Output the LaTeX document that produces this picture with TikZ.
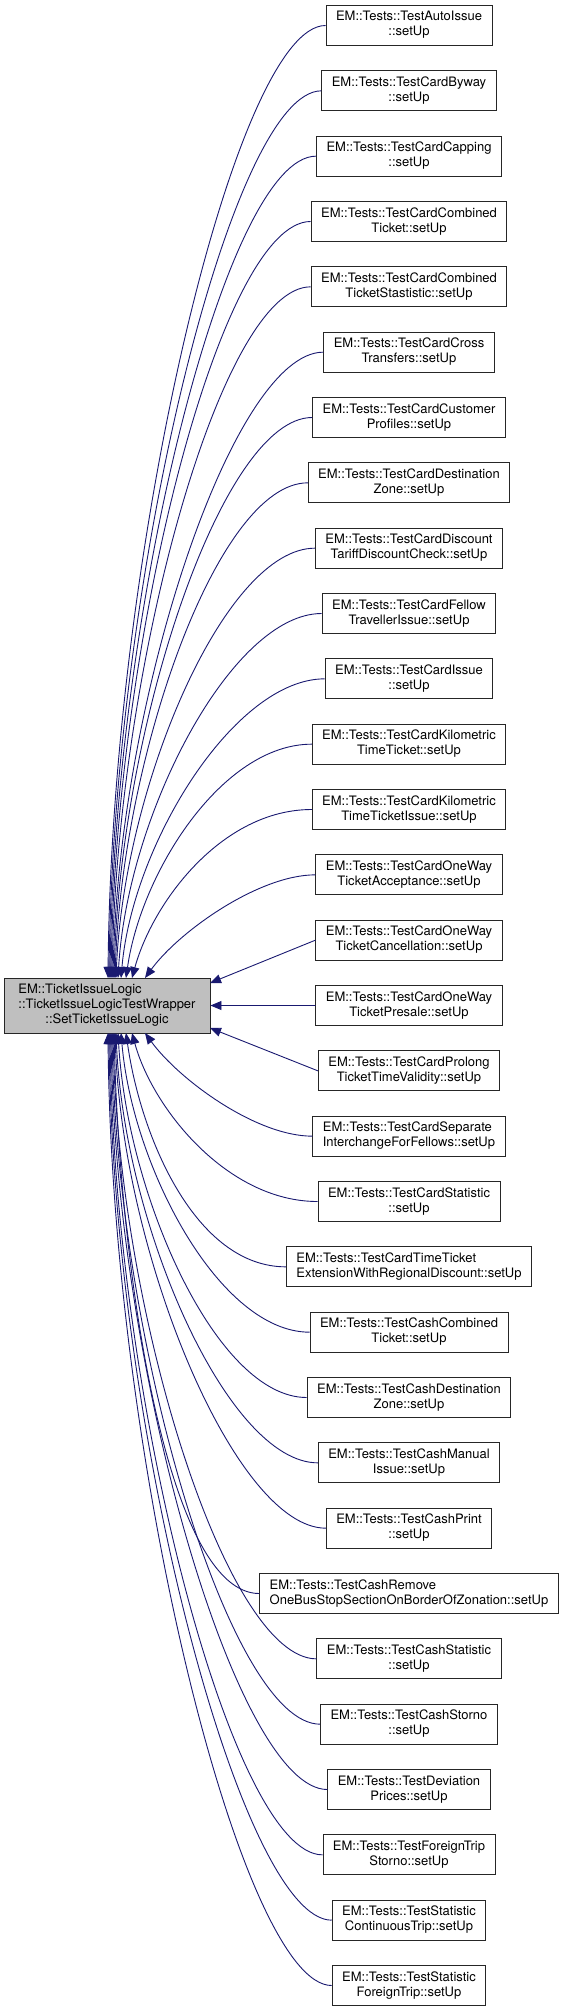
\documentclass[tikz,border=0pt]{standalone}
\usepackage{fontspec}
\setmainfont{TeX Gyre Heros}
\usetikzlibrary{calc,arrows.meta}
\definecolor{edgecol}{HTML}{191970}
\definecolor{boxgray}{HTML}{BFBFBF}
\newcommand{\twoline}[2]{\begin{tabular}{@{}c@{}}\multicolumn{1}{@{}l@{}}{#1}\\#2\end{tabular}}
\begin{document}
\begin{tikzpicture}[x=1pt,y=-1pt,
  box/.style={draw=black!85, line width=0.9pt, fill=white, minimum height=40pt,
    inner xsep=10pt, inner ysep=2pt, font=\fontsize{13}{15}\selectfont},
  edge/.style={draw=edgecol, line width=0.9pt, -{Triangle[length=11pt,width=9pt]}}]
\useasboundingbox (0,0) rectangle (565,2012);

\node[box, fill=boxgray, minimum width=206pt, minimum height=55pt] (L) at (107,1005.5)
  {\begin{tabular}{@{}c@{}}\multicolumn{1}{@{}l@{}}{EM::TicketIssueLogic}\\::TicketIssueLogicTestWrapper\\::SetTicketIssueLogic\end{tabular}};

\foreach \i/\ta/\tb in {
 0/EM::Tests::TestAutoIssue/::setUp,
 1/EM::Tests::TestCardByway/::setUp,
 2/EM::Tests::TestCardCapping/::setUp,
 3/EM::Tests::TestCardCombined/Ticket::setUp,
 4/EM::Tests::TestCardCombined/TicketStastistic::setUp,
 5/EM::Tests::TestCardCross/Transfers::setUp,
 6/EM::Tests::TestCardCustomer/Profiles::setUp,
 7/EM::Tests::TestCardDestination/Zone::setUp,
 8/EM::Tests::TestCardDiscount/TariffDiscountCheck::setUp,
 9/EM::Tests::TestCardFellow/TravellerIssue::setUp,
 10/EM::Tests::TestCardIssue/::setUp,
 11/EM::Tests::TestCardKilometric/TimeTicket::setUp,
 12/EM::Tests::TestCardKilometric/TimeTicketIssue::setUp,
 13/EM::Tests::TestCardOneWay/TicketAcceptance::setUp,
 14/EM::Tests::TestCardOneWay/TicketCancellation::setUp,
 15/EM::Tests::TestCardOneWay/TicketPresale::setUp,
 16/EM::Tests::TestCardProlong/TicketTimeValidity::setUp,
 17/EM::Tests::TestCardSeparate/InterchangeForFellows::setUp,
 18/EM::Tests::TestCardStatistic/::setUp,
 19/EM::Tests::TestCardTimeTicket/ExtensionWithRegionalDiscount::setUp,
 20/EM::Tests::TestCashCombined/Ticket::setUp,
 21/EM::Tests::TestCashDestination/Zone::setUp,
 22/EM::Tests::TestCashManual/Issue::setUp,
 23/EM::Tests::TestCashPrint/::setUp,
 24/EM::Tests::TestCashRemove/OneBusStopSectionOnBorderOfZonation::setUp,
 25/EM::Tests::TestCashStatistic/::setUp,
 26/EM::Tests::TestCashStorno/::setUp,
 27/EM::Tests::TestDeviation/Prices::setUp,
 28/EM::Tests::TestForeignTrip/Storno::setUp,
 29/EM::Tests::TestStatistic/ContinuousTrip::setUp,
 30/EM::Tests::TestStatistic/ForeignTrip::setUp}{
  \pgfmathsetmacro\yy{25.5+65.3333*\i}
  \node[box] (n\i) at (409,\yy) {\twoline{\ta}{\tb}};
}

% upper edges
\foreach \i/\tx in {0/108,1/109,2/110,3/111,4/112,5/113,6/114,7/115,8/116,9/118,10/121,11/126,12/132,13/145}{
  \pgfmathsetmacro\yy{25.5+65.3333*\i}
  \pgfmathsetmacro\dyy{978-\yy}
  \pgfmathsetmacro\ctlA{min(90,0.55*\dyy)}
  \pgfmathsetmacro\ctlB{3500/\dyy}
  \coordinate (t\i) at (\tx,978);
  \draw[edge] (n\i.west) .. controls ($(n\i.west)+(-\ctlA,0)$) and (\tx+\ctlB,978-0.45*\dyy) .. (t\i);
}
% lower edges
\foreach \i/\tx in {30/108,29/109,28/110,27/111,26/112,25/113,24/114,23/115,22/116,21/118,20/121,19/126,18/132,17/145}{
  \pgfmathsetmacro\yy{25.5+65.3333*\i}
  \pgfmathsetmacro\dyy{\yy-1033}
  \pgfmathsetmacro\ctlA{min(90,0.55*\dyy)}
  \pgfmathsetmacro\ctlB{3500/\dyy}
  \coordinate (t\i) at (\tx,1033);
  \draw[edge] (n\i.west) .. controls ($(n\i.west)+(-\ctlA,0)$) and (\tx+\ctlB,1033+0.45*\dyy) .. (t\i);
}
\coordinate (t14) at (210,983);
\coordinate (t16) at (210,1028);
\draw[edge] (n14.west) -- (t14);
\draw[edge] (n15.west) -- (L.east);
\draw[edge] (n16.west) -- (t16);
\end{tikzpicture}
\end{document}
